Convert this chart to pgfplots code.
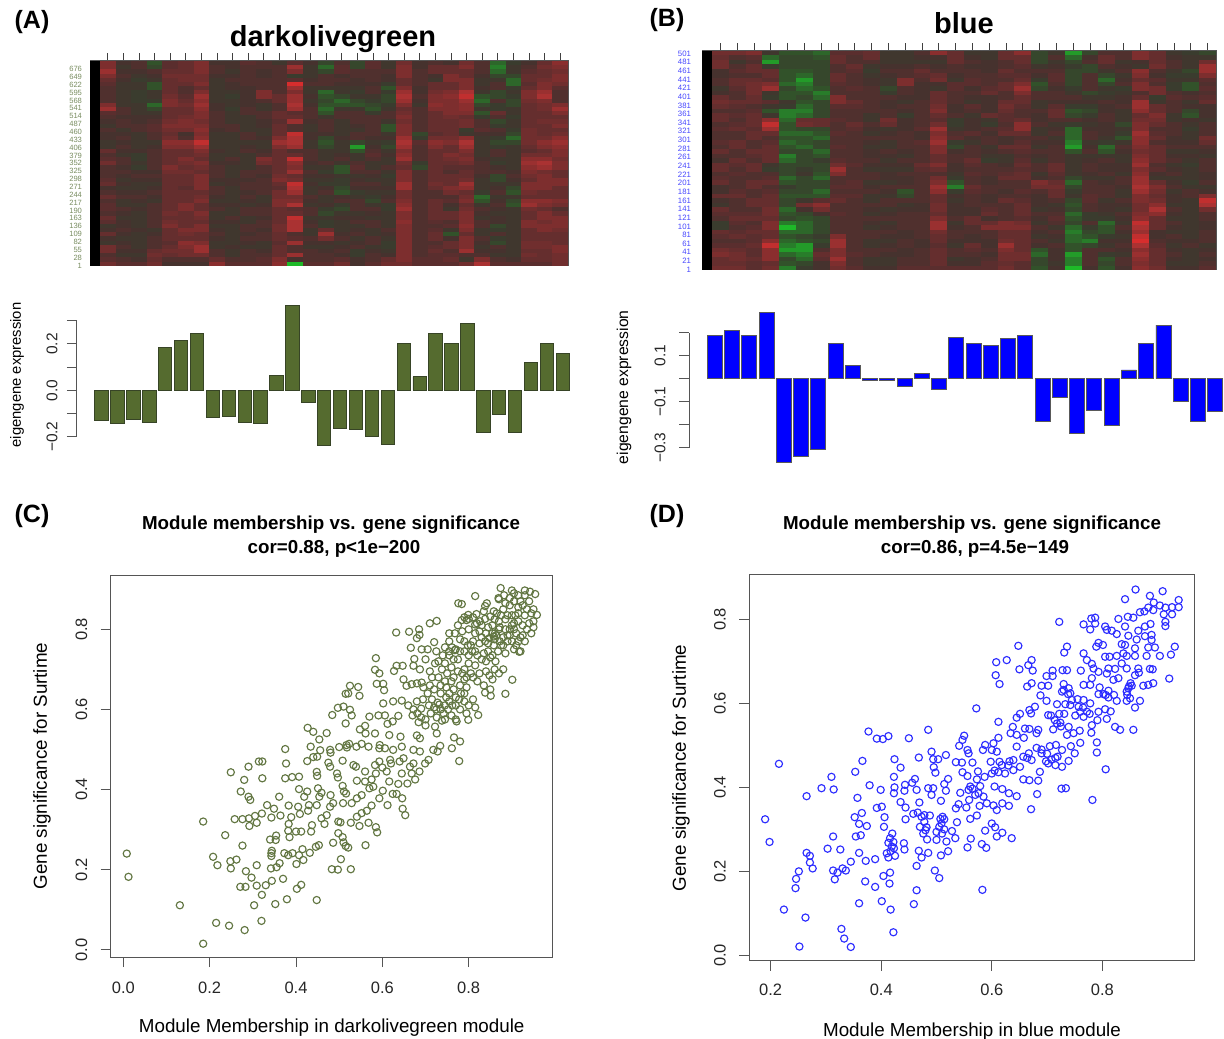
\documentclass[border=0pt]{standalone}
\usepackage{fontspec}
\setmainfont{Liberation Sans}
\usepackage{pgfplots}
\usepackage{pgfplotstable}
\pgfplotsset{compat=1.18}
\definecolor{olive}{RGB}{85,107,47}
\definecolor{olivemark}{RGB}{98,118,66}
\definecolor{oliveedge}{RGB}{55,68,38}
\definecolor{oliverow}{RGB}{120,140,95}
\definecolor{bluerow}{RGB}{70,70,255}
\definecolor{bluemark}{RGB}{45,45,255}
\definecolor{frame}{RGB}{85,85,85}
\pgfplotsset{
  colormap={rg}{rgb255(0)=(30,185,40) rgb255(1)=(40,125,42) rgb255(2)=(50,82,42) rgb255(3)=(58,60,46) rgb255(4)=(70,50,46) rgb255(5)=(90,46,46) rgb255(6)=(112,46,46) rgb255(7)=(138,46,46) rgb255(8)=(170,50,50) rgb255(9)=(215,45,45)},
  base/.style={scale only axis, axis line style={color=frame,line width=1pt}, tick style={color=frame,line width=1pt}, tick align=outside, major tick length=10pt, ticklabel style={font=\fontsize{16.5}{18}\selectfont,color=black!85}},
  heat/.style={base, clip=true, xmin=-#1, xmax=30, ymin=0, point meta min=0, point meta max=9, xtick={0.5,1.5,...,29.5}, xticklabels={}, xtick pos=upper, major tick length=7.5pt, ytick style={draw=none}, major tick style={color=black!75,line width=.9pt}, axis line style={color=frame,line width=1pt}, enlargelimits=false},
  barax/.style={base, clip=false, axis x line=none, axis y line*=left, ybar, bar shift=0pt, ticklabel style={font=\fontsize{15.5}{17}\selectfont}, y label style={anchor=center}},
  scat/.style={base, clip=true, axis x line*=bottom, axis y line*=left, extra description/.code={\draw[frame,line width=1pt] (rel axis cs:0,0) rectangle (rel axis cs:1,1);}, x label style={font=\fontsize{18.8}{20}\selectfont,anchor=center,at={(axis description cs:0.5,0)}}, y label style={font=\fontsize{18.8}{20}\selectfont,anchor=center,at={(axis description cs:0,0.5)}}},
}
\pgfplotstableread[header=false]{
7 4 4 3 5 5 6 4 4 5 4 3 3 4 3 5 4 5 4 5 4 3 2 5 4 2 3 4 5 7
6 4 5 1 5 6 7 4 4 5 5 4 7 4 2 4 1 5 3 7 4 6 6 7 5 1 3 4 6 7
7 3 4 4 5 5 6 5 4 4 4 5 8 3 1 6 4 5 4 6 4 5 5 6 4 1 4 5 6 6
8 5 4 5 6 6 7 4 3 5 4 4 5 4 4 4 5 4 5 7 5 6 6 5 5 2 3 5 5 6
5 4 3 3 6 6 5 4 5 4 4 5 1 3 5 4 4 5 3 6 4 2 7 6 3 3 2 6 6 7
6 4 3 4 5 6 7 3 4 5 5 4 9 5 4 5 4 4 5 5 5 5 6 7 4 4 1 5 6 6
4 3 4 0 6 5 6 4 4 4 4 5 9 4 5 3 4 4 1 6 4 6 5 6 3 5 2 5 7 6
5 4 3 4 5 4 5 3 4 4 5 4 6 3 2 4 3 5 3 7 4 5 6 7 5 4 4 6 6 4
4 3 3 3 6 5 8 4 3 4 8 5 7 4 1 3 3 4 3 8 4 7 7 9 2 1 3 7 9 5
5 4 3 4 6 5 7 3 3 4 5 6 8 4 3 2 4 3 2 8 5 6 7 8 2 4 3 6 7 4
4 3 3 2 7 6 7 4 4 4 4 5 7 3 2 1 1 3 3 7 3 7 6 7 1 5 2 6 6 5
9 4 4 1 6 6 8 4 3 4 3 4 9 5 2 3 3 2 3 6 4 7 7 7 4 1 3 5 6 8
6 5 3 4 5 5 6 4 3 5 4 5 6 4 1 4 4 2 4 5 5 6 6 7 3 5 4 6 6 7
4 4 4 3 6 6 7 5 4 4 5 6 4 5 3 5 5 4 5 7 4 5 7 6 1 6 3 5 5 6
5 4 4 5 5 6 6 4 3 3 4 5 7 4 4 4 4 5 4 6 5 6 5 5 5 3 3 6 6 5
3 5 4 4 7 7 6 5 4 4 4 5 8 4 5 3 5 4 3 6 4 5 6 7 4 2 4 5 6 7
4 4 5 6 6 6 7 4 5 3 4 6 1 3 4 4 3 5 1 7 5 6 5 5 5 4 3 6 5 6
5 3 4 4 6 6 7 4 4 4 3 5 8 4 5 3 4 4 3 6 4 5 6 1 5 5 3 6 6 5
3 5 3 5 5 2 6 3 3 5 4 6 9 4 3 4 5 5 4 7 1 5 5 6 3 3 2 6 5 7
5 4 4 4 7 7 8 4 4 4 4 7 7 4 2 4 4 3 4 8 5 7 7 8 4 3 1 6 7 7
2 4 3 3 7 7 9 3 3 3 3 8 9 3 2 3 1 4 2 8 5 7 6 8 3 2 4 6 7 8
5 5 4 5 6 6 6 4 4 5 4 5 6 4 3 4 0 4 3 7 4 6 5 7 4 4 3 5 6 6
6 3 4 4 5 5 7 4 3 4 4 6 3 5 4 3 4 5 4 6 5 5 6 6 3 5 4 5 5 7
3 4 2 5 6 6 5 3 4 3 5 5 8 4 3 5 3 5 4 8 4 6 7 6 4 4 3 7 7 6
7 5 4 4 5 7 6 4 5 4 8 6 9 5 4 4 4 4 3 7 5 5 5 7 4 3 4 7 7 6
5 4 3 5 6 5 7 4 3 3 4 5 5 3 5 3 5 3 4 5 1 6 6 5 5 3 3 8 9 7
4 4 3 4 7 6 5 5 4 4 5 6 8 4 2 1 5 4 5 6 4 5 4 5 4 5 4 6 6 6
5 5 5 4 5 6 6 4 3 5 4 5 7 5 4 3 4 5 2 7 5 6 5 6 5 4 4 7 6 5
4 3 4 5 6 5 7 5 4 4 4 7 4 3 4 4 3 3 4 6 4 5 6 5 3 1 5 5 7 6
6 4 4 3 5 6 6 3 4 4 5 6 8 4 3 2 5 4 3 7 5 6 5 7 4 4 3 6 6 7
5 4 3 4 6 5 7 4 4 5 4 5 9 4 3 4 4 5 4 8 4 6 6 8 3 3 4 7 7 6
3 3 4 4 5 5 6 5 3 4 5 5 7 3 5 1 4 3 4 7 5 5 7 6 4 5 1 6 6 5
6 5 4 5 6 6 5 4 4 4 4 7 8 4 4 3 2 4 3 5 4 4 5 5 2 4 3 6 5 6
5 4 5 3 5 5 7 4 3 5 3 5 4 5 3 5 5 2 5 7 5 5 4 7 1 3 4 5 6 5
4 3 3 4 6 6 6 3 4 3 4 8 9 3 4 4 4 3 4 6 4 6 6 6 3 5 1 9 8 8
6 4 4 5 5 7 5 5 4 4 4 5 7 4 4 2 5 4 2 8 5 5 2 5 4 4 3 6 5 4
4 5 4 4 6 6 6 4 3 5 5 6 3 5 2 3 4 5 4 7 4 6 5 7 5 4 4 6 6 5
5 3 3 5 6 5 7 3 4 4 4 5 8 4 3 4 3 3 3 6 5 5 6 6 3 3 3 5 7 6
6 4 4 4 5 6 5 4 5 3 4 6 9 3 4 4 5 4 4 7 4 6 5 7 4 5 4 6 6 7
4 4 3 5 7 5 6 4 3 4 5 5 7 5 2 3 4 5 3 7 5 4 4 6 5 3 3 7 6 6
3 4 4 4 6 6 7 3 4 5 4 7 9 4 4 4 3 4 4 6 4 5 6 8 4 2 4 6 7 7
5 5 4 3 5 7 6 5 3 4 4 5 7 3 7 3 5 3 5 7 5 5 1 5 3 4 3 5 6 5
6 3 3 5 6 5 5 4 4 4 5 6 2 4 8 5 4 4 3 6 4 6 3 6 4 5 4 6 5 6
2 4 4 4 5 6 6 4 3 5 4 5 8 5 4 4 3 5 4 7 5 5 5 7 5 1 3 5 6 5
5 4 3 5 5 8 7 3 4 3 3 5 7 3 4 3 5 4 2 6 4 4 6 6 3 4 4 7 6 6
7 5 4 4 6 5 8 4 4 4 4 6 2 4 3 5 4 3 4 7 5 6 5 7 4 5 3 5 6 7
5 3 4 7 6 7 7 5 3 5 4 5 7 5 5 4 2 5 3 6 4 5 4 8 4 3 4 6 5 6
4 4 3 5 5 5 5 4 4 4 5 6 8 4 4 4 4 4 5 7 5 5 6 1 5 4 3 6 6 6
6 5 5 6 4 4 4 7 5 5 5 7 0 5 5 6 4 5 6 6 5 5 5 6 8 5 5 5 5 6
6 5 5 6 4 4 4 7 5 5 5 7 0 5 5 6 4 5 6 6 5 5 5 6 8 5 5 5 5 6
}\hmA
\pgfplotstableread[header=false]{
6 7 7 4 2 1 2 5 5 5 3 4 4 8 6 5 3 5 8 2 2 0 2 4 4 7 6 3 2 3
6 5 6 3 2 3 1 5 5 6 4 3 5 6 5 2 4 6 6 3 5 1 3 5 5 6 5 4 4 2
5 4 4 0 3 2 3 6 4 5 3 4 3 2 6 6 3 5 5 2 4 2 5 6 4 7 6 4 3 5
7 3 5 1 2 3 2 5 5 4 4 3 4 5 5 3 5 4 6 3 3 3 4 5 3 1 5 5 4 7
5 6 6 5 3 2 3 4 6 3 4 5 5 3 4 5 3 5 4 4 5 3 1 4 5 6 7 4 3 8
3 4 5 6 1 2 2 5 4 3 5 4 6 6 5 4 5 6 5 5 4 2 4 3 4 8 2 3 2 7
5 5 4 5 3 1 3 6 5 4 3 5 4 5 3 5 4 4 5 3 6 3 5 2 3 5 6 3 4 6
4 6 7 5 1 0 2 5 4 4 4 8 5 7 4 5 5 5 6 3 4 2 4 1 5 6 4 4 3 4
5 5 5 8 2 2 3 5 5 4 3 5 3 1 6 5 4 6 7 1 5 3 5 4 4 7 5 2 1 5
2 5 7 7 3 1 1 4 5 5 2 4 5 6 4 3 6 5 8 4 3 3 4 3 2 6 7 4 3 5
6 4 5 0 1 3 1 5 4 4 4 5 3 5 5 6 5 4 5 5 6 4 1 3 5 3 5 5 5 4
5 5 6 6 3 2 2 8 5 5 5 3 5 6 4 2 3 5 6 4 3 5 6 4 3 8 1 5 4 6
7 6 5 4 4 2 3 5 6 4 3 4 4 5 5 5 5 6 5 3 5 3 2 5 5 7 6 4 3 5
4 4 4 3 2 1 2 5 4 5 5 5 5 7 3 5 3 6 5 4 5 3 4 3 4 8 5 5 5 3
5 5 6 1 0 1 3 4 5 4 4 3 4 6 5 4 5 5 4 5 6 1 1 5 3 6 6 4 0 5
6 5 5 6 2 2 2 5 4 3 5 3 5 5 4 3 6 5 5 3 5 4 5 4 4 5 7 3 4 3
5 4 6 8 1 9 9 5 5 4 7 5 4 5 2 5 1 5 6 5 4 5 3 5 3 7 5 4 4 4
4 6 5 9 3 3 2 4 6 5 4 3 5 7 4 3 5 4 8 4 3 1 4 3 2 6 6 5 3 5
6 5 5 6 1 2 3 5 4 3 3 5 5 8 3 5 4 6 6 3 5 2 4 5 5 7 3 4 3 4
3 4 6 5 2 1 1 5 5 4 5 4 3 5 6 5 4 5 5 4 4 1 5 3 1 8 7 5 4 5
6 5 5 4 2 3 2 4 4 5 4 5 5 9 4 3 5 3 4 5 3 2 4 4 3 6 4 3 3 7
4 6 4 6 1 1 3 5 5 3 3 4 5 6 2 4 4 5 6 3 5 0 3 2 4 8 5 5 5 4
5 5 5 5 3 2 2 5 4 4 4 5 4 7 3 5 3 6 5 4 4 1 5 1 5 5 6 4 4 5
6 4 6 6 2 3 1 4 5 4 5 3 5 6 5 4 5 3 5 5 5 3 4 3 3 7 5 3 3 3
3 5 4 5 0 2 3 5 4 4 3 4 4 5 4 5 2 4 4 3 4 4 3 4 4 6 6 5 5 4
5 6 5 6 3 3 3 5 5 5 4 5 5 6 5 6 4 3 6 4 5 3 5 5 3 8 5 4 2 5
6 4 6 1 2 2 2 7 5 3 4 3 6 7 3 4 5 5 5 5 6 4 4 3 5 7 4 3 4 4
5 5 5 5 3 4 3 8 4 4 3 4 4 4 5 5 4 4 5 4 5 3 5 5 3 6 6 5 3 5
4 5 4 4 2 3 1 5 5 5 5 5 5 5 2 5 5 6 6 3 5 4 3 4 4 8 2 4 4 3
6 4 5 6 1 2 2 4 4 4 3 3 4 7 4 4 3 5 5 5 4 1 4 3 5 7 5 3 3 5
5 5 6 5 3 3 3 5 6 3 4 5 5 6 0 5 5 4 4 8 7 2 5 5 4 8 6 5 3 4
3 4 5 4 3 2 2 5 4 5 5 4 4 9 2 6 4 5 5 4 5 3 4 4 4 8 7 4 4 3
5 6 4 6 2 3 1 4 5 4 3 0 5 5 4 4 5 3 5 5 6 3 5 5 3 7 5 3 5 5
6 5 5 5 2 1 3 6 5 3 4 5 4 6 4 5 3 6 4 3 5 4 5 4 4 6 6 5 4 8
2 4 6 6 3 6 7 5 4 4 5 4 5 5 3 4 5 5 6 5 4 1 5 3 5 7 6 3 3 9
5 5 5 5 2 6 7 4 5 5 4 3 3 7 5 5 4 4 5 3 3 3 4 5 3 5 8 4 4 7
6 4 4 7 1 2 5 5 4 3 3 5 5 5 3 3 6 5 6 4 5 2 5 3 4 7 8 5 3 5
4 6 6 5 3 3 3 5 5 4 5 4 4 6 5 5 5 4 5 5 4 1 1 4 5 6 6 3 4 4
5 5 5 6 2 1 2 4 4 5 4 5 5 7 4 6 3 5 5 3 6 3 5 2 3 8 5 4 3 5
1 5 4 7 0 2 3 5 5 3 3 4 4 8 3 5 8 8 7 4 3 2 4 1 4 9 6 5 4 3
5 4 6 6 0 1 2 4 4 4 5 5 5 7 5 4 5 5 6 5 4 1 2 3 5 7 5 3 3 5
6 6 5 5 3 2 3 5 5 5 4 3 4 5 4 5 4 6 5 3 5 1 3 1 3 8 3 4 4 4
4 5 5 6 1 3 3 8 4 4 4 5 5 6 5 3 5 5 6 4 3 2 1 5 4 9 5 5 3 5
5 4 5 8 2 1 2 7 5 3 3 4 3 5 3 5 3 7 5 5 4 1 1 3 4 9 4 3 5 4
5 6 6 9 0 0 4 8 4 4 5 5 5 5 4 6 5 8 6 3 5 3 4 4 5 7 6 4 4 3
7 5 4 5 1 1 5 5 5 5 4 3 4 6 5 4 4 5 5 1 3 1 5 5 3 7 5 4 3 5
6 7 6 9 2 1 6 8 5 4 4 5 5 5 4 5 4 7 7 2 5 0 4 1 4 8 6 5 4 4
5 5 5 5 3 2 4 7 4 3 3 4 4 6 3 3 5 5 5 3 3 2 5 3 5 6 5 3 3 4
6 6 5 6 1 3 4 6 5 4 4 5 5 5 5 5 5 6 5 2 4 0 4 2 4 7 6 4 4 5
6 6 5 6 1 3 4 6 5 4 4 5 5 5 5 5 5 6 5 2 4 0 4 2 4 7 6 4 4 5
}\hmB
\begin{document}
\begin{tikzpicture}[x=1pt,y=1pt]
\path[use as bounding box] (0,0) rectangle (1224,1039);
% ---------- heatmap A
\begin{axis}[heat=0.64, at={(90pt,773.3pt)}, anchor=south west, width=478pt, height=204.7pt, ymax=703.4,
  ytick={1,28,55,82,109,136,163,190,217,244,271,298,325,352,379,406,433,460,487,514,541,568,595,622,649,676},
  yticklabels={1,28,55,82,109,136,163,190,217,244,271,298,325,352,379,406,433,460,487,514,541,568,595,622,649,676},
  yticklabel style={font=\fontsize{7.6}{8}\selectfont,color=oliverow,xshift=3pt}]
\addplot[fill=black,draw=none,forget plot] coordinates {(-0.64,0) (0,0) (0,703.4) (-0.64,703.4)} --cycle;
\pgfplotsinvokeforeach{0,...,29}{
  \addplot[mesh,shader=flat mean,line width=15.7pt,line cap=butt,point meta=explicit,forget plot]
   table[x expr=#1+0.5,y expr=703.4*(1-\coordindex/49),meta index=#1]{\hmA};
}
\end{axis}
% ---------- heatmap B
\begin{axis}[heat=0.595, at={(702pt,769pt)}, anchor=south west, width=514pt, height=219.3pt, ymax=507.6,
  ytick={1,21,41,61,81,101,121,141,161,181,201,221,241,261,281,301,321,341,361,381,401,421,441,461,481,501},
  yticklabels={1,21,41,61,81,101,121,141,161,181,201,221,241,261,281,301,321,341,361,381,401,421,441,461,481,501},
  yticklabel style={font=\fontsize{7.8}{8}\selectfont,color=bluerow,xshift=0pt}]
\addplot[fill=black,draw=none,forget plot] coordinates {(-0.595,0) (0,0) (0,507.6) (-0.595,507.6)} --cycle;
\pgfplotsinvokeforeach{0,...,29}{
  \addplot[mesh,shader=flat mean,line width=16.9pt,line cap=butt,point meta=explicit,forget plot]
   table[x expr=#1+0.5,y expr=507.6*(1-\coordindex/49),meta index=#1]{\hmB};
}
\end{axis}
% ---------- bars A
\begin{axis}[barax, at={(77pt,602.3pt)}, anchor=south west, width=495pt, height=116pt, xmin=-0.547, xmax=30.58, ymin=-0.2, ymax=0.3,
  ytick={-0.2,-0.1,0,0.1,0.2,0.3}, yticklabels={−0.2,,0.0,,0.2,}, bar width=13.4pt,
  yticklabel style={rotate=90,anchor=south,yshift=6pt},
  ylabel={eigengene expression}, y label style={font=\fontsize{14.8}{16}\selectfont,at={(axis description cs:0,0.5)},yshift=60pt,xshift=3.7pt}]
\addplot[fill=olive,draw=oliveedge,line width=.9pt] coordinates {
(1,-0.128)(2,-0.142)(3,-0.124)(4,-0.137)(5,0.184)(6,0.213)(7,0.245)(8,-0.115)(9,-0.111)(10,-0.137)
(11,-0.145)(12,0.065)(13,0.367)(14,-0.053)(15,-0.236)(16,-0.164)(17,-0.170)(18,-0.197)(19,-0.233)(20,0.200)
(21,0.058)(22,0.245)(23,0.203)(24,0.289)(25,-0.183)(26,-0.106)(27,-0.183)(28,0.119)(29,0.203)(30,0.157)};
\end{axis}
% ---------- bars B
\begin{axis}[barax, at={(689pt,591.3pt)}, anchor=south west, width=535pt, height=115pt, xmin=-0.5, xmax=30.51, ymin=-0.3, ymax=0.2,
  ytick={-0.3,-0.2,-0.1,0,0.1,0.2}, yticklabels={−0.3,,−0.1,,0.1,}, bar width=15pt,
  yticklabel style={rotate=90,anchor=south,yshift=10pt},
  ylabel={eigengene expression}, y label style={font=\fontsize{15.7}{17}\selectfont,at={(axis description cs:0,0.5)},yshift=65pt,xshift=3pt}]
\addplot[fill=blue,draw=black!65,line width=.9pt] coordinates {
(1,0.187)(2,0.209)(3,0.187)(4,0.286)(5,-0.365)(6,-0.338)(7,-0.307)(8,0.154)(9,0.057)(10,-0.006)
(11,-0.007)(12,-0.032)(13,0.023)(14,-0.045)(15,0.181)(16,0.152)(17,0.143)(18,0.175)(19,0.188)(20,-0.184)
(21,-0.083)(22,-0.239)(23,-0.136)(24,-0.204)(25,0.038)(26,0.155)(27,0.233)(28,-0.099)(29,-0.184)(30,-0.142)};
\end{axis}
% ---------- scatter C
\begin{axis}[scat, at={(110.7pt,82pt)}, anchor=south west, width=442pt, height=382pt,
  xmin=-0.0292, xmax=0.9946, ymin=-0.0182, ymax=0.9356,
  xtick={0,0.2,0.4,0.6,0.8}, xticklabels={0.0,0.2,0.4,0.6,0.8}, xticklabel style={yshift=-11pt},
  ytick={0,0.2,0.4,0.6,0.8}, yticklabels={0.0,0.2,0.4,0.6,0.8}, yticklabel style={rotate=90,anchor=south,yshift=10pt},
  xlabel={Module Membership in darkolivegreen module}, ylabel={Gene significance for Surtime},
  x label style={yshift=-71pt}, y label style={yshift=68.7pt,xshift=0pt}]
\addplot[only marks,mark=o,mark size=3.6pt,mark options={draw=olivemark,line width=1.15pt}] coordinates {
(.008,.240)(.012,.182)(.131,.111)(.185,.015)(.185,.320)(.215,.067)(.245,.060)(.281,.049)(.320,.072)(.303,.111)
(.352,.114)(.379,.126)(.448,.124)(.321,.137)(.208,.232)(.218,.211)(.249,.203)(.248,.221)(.262,.225)(.236,.286)
(.276,.260)(.249,.443)(.280,.424)(.290,.457)(.272,.395)(.290,.382)(.294,.374)(.258,.326)(.276,.326)(.291,.328)
(.284,.196)(.297,.180)(.309,.211)(.271,.157)(.283,.157)(.309,.160)(.330,.161)(.344,.172)(.370,.177)(.402,.152)
(.412,.162)(.342,.203)(.355,.206)(.362,.216)(.343,.241)(.343,.234)(.344,.247)(.373,.241)(.382,.236)(.392,.241)
(.407,.236)(.417,.224)(.401,.214)(.415,.251)(.432,.242)(.446,.257)(.453,.261)(.483,.201)(.497,.200)(.527,.201)
(.504,.226)(.486,.267)(.510,.268)(.515,.259)(.521,.255)(.561,.261)(.340,.275)(.354,.285)(.353,.274)(.385,.281)
(.382,.297)(.400,.295)(.412,.295)(.435,.295)(.383,.314)(.437,.311)(.343,.330)(.364,.335)(.349,.352)(.333,.361)
(.321,.340)(.305,.334)(.309,.317)(.292,.309)(.389,.331)(.409,.339)(.428,.347)(.383,.360)(.405,.357)(.430,.361)
(.448,.361)(.361,.382)(.419,.382)(.426,.395)(.407,.401)(.451,.403)(.459,.392)(.454,.382)(.375,.428)(.391,.431)
(.407,.432)(.322,.428)(.314,.470)(.322,.470)(.377,.465)(.375,.501)(.426,.471)(.440,.481)(.449,.482)(.456,.498)
(.434,.507)(.448,.444)(.449,.434)(.427,.554)(.440,.544)(.454,.525)(.471,.541)(.479,.499)(.480,.492)(.500,.506)
(.517,.511)(.523,.514)(.518,.505)(.475,.467)(.479,.457)(.508,.472)(.495,.440)(.497,.430)(.508,.409)(.516,.390)
(.511,.395)(.480,.386)(.486,.366)(.479,.357)(.471,.336)(.459,.328)(.466,.314)(.498,.320)(.503,.318)(.498,.291)
(.508,.281)(.527,.317)(.547,.309)(.568,.317)(.585,.306)(.588,.293)(.541,.332)(.552,.341)(.564,.347)(.575,.360)
(.612,.361)(.509,.366)(.529,.366)(.541,.378)(.552,.386)(.570,.403)(.579,.407)(.601,.397)(.593,.378)(.624,.389)
(.633,.389)(.646,.378)(.647,.352)(.653,.336)(.533,.461)(.539,.457)(.541,.422)(.560,.445)(.583,.461)(.593,.470)
(.618,.474)(.610,.445)(.616,.420)(.637,.414)(.658,.415)(.645,.440)(.676,.425)(.686,.445)(.668,.440)(.664,.457)
(.649,.478)(.672,.465)(.707,.474)(.699,.465)(.718,.499)(.728,.495)(.734,.509)(.761,.503)(.780,.520)(.766,.530)
(.778,.471)(.726,.540)(.722,.557)(.687,.528)(.680,.535)(.672,.499)(.687,.495)(.645,.507)(.625,.499)(.606,.503)
(.594,.511)(.593,.503)(.568,.507)(.552,.514)(.540,.507)(.570,.582)(.591,.585)(.548,.550)(.560,.559)(.561,.540)
(.583,.540)(.616,.536)(.642,.532)(.612,.564)(.624,.570)(.606,.585)(.637,.584)(.602,.615)(.625,.620)(.645,.622)
(.484,.586)(.497,.604)(.510,.607)(.525,.599)(.529,.585)(.515,.565)(.515,.639)(.521,.640)(.525,.659)(.544,.656)
(.547,.634)(.587,.664)(.602,.664)(.604,.648)(.583,.699)(.593,.690)(.585,.728)(.627,.696)(.633,.709)(.647,.709)
(.632,.792)(.662,.794)(.685,.800)(.686,.786)(.680,.778)(.710,.815)(.726,.821)(.666,.754)(.691,.750)(.674,.726)
(.672,.709)(.687,.700)(.649,.675)(.656,.659)(.668,.663)(.691,.667)
(.680,.620)(.690,.602)(.672,.600)(.681,.590)(.660,.610)(.670,.585)(.690,.580)(.700,.575)(.684,.568)(.700,.560)
(.712,.590)(.726,.580)(.738,.572)(.742,.590)(.752,.600)(.760,.585)(.770,.575)(.745,.610)(.728,.617)(.715,.625)
(.705,.640)(.720,.650)(.735,.660)(.748,.655)(.710,.660)(.695,.655)(.680,.665)(.735,.640)(.755,.640)(.765,.650)
(.770,.630)(.782,.640)(.790,.620)(.800,.610)(.810,.625)(.815,.605)(.795,.655)(.780,.660)(.790,.675)(.765,.680)
(.750,.690)(.738,.700)(.722,.715)(.710,.695)(.700,.725)(.725,.745)(.745,.715)(.760,.705)(.775,.725)(.790,.700)
(.805,.690)(.820,.670)(.825,.690)(.835,.660)(.850,.650)(.855,.675)(.840,.720)(.815,.710)(.800,.735)(.790,.745)
(.770,.750)(.755,.770)(.745,.755)(.720,.768)(.705,.750)(.790,.770)(.805,.760)(.815,.745)(.835,.740)(.850,.730)
(.862,.720)(.880,.700)(.870,.690)(.885,.740)(.890,.770)(.872,.770)(.858,.760)(.845,.765)(.830,.780)(.815,.790)
(.800,.800)(.815,.812)(.800,.826)(.790,.830)(.830,.810)(.845,.805)(.855,.790)(.870,.800)(.885,.800)(.890,.785)
(.900,.810)(.910,.790)(.920,.780)(.900,.770)(.905,.750)(.920,.745)(.930,.770)(.915,.820)(.925,.810)(.935,.800)
(.945,.790)(.940,.815)(.950,.820)(.930,.835)(.915,.840)(.900,.835)(.885,.825)(.870,.820)(.865,.840)(.880,.850)
(.895,.860)(.905,.870)(.915,.855)(.925,.860)(.935,.850)(.945,.840)(.950,.850)(.940,.870)(.930,.885)(.915,.885)
(.905,.890)(.870,.875)(.874,.903)(.815,.883)(.776,.865)(.784,.863)(.842,.865)(.838,.858)(.869,.878)(.900,.897)
(.930,.897)(.954,.888)(.942,.894)(.958,.836)(.950,.805)(.917,.744)(.901,.674)(.885,.639)(.851,.634)(.838,.642)
(.822,.586)(.799,.574)(.772,.570)(.861,.790)(.864,.785)(.858,.782)(.761,.755)(.755,.745)(.768,.748)(.799,.836)
(.795,.823)(.784,.823)(.819,.815)(.860,.775)(.875,.760)(.895,.800)(.905,.815)(.880,.780)(.890,.835)(.855,.810)
(.840,.790)(.825,.765)(.810,.770)(.800,.715)(.785,.690)(.775,.695)(.760,.670)(.745,.670)(.730,.680)(.715,.680)
(.735,.600)(.725,.600)(.745,.575)(.755,.620)(.770,.610)(.780,.600)(.795,.590)
(.826,.820)(.838,.826)(.850,.832)(.858,.845)(.875,.835)(.885,.865)(.860,.825)(.848,.778)(.838,.770)(.872,.805)
(.880,.760)(.895,.785)(.905,.800)(.915,.770)(.925,.785)(.908,.835)(.920,.870)(.895,.878)(.882,.885)(.910,.760)
(.868,.745)(.855,.735)(.845,.745)(.830,.725)(.820,.735)(.808,.745)(.798,.760)(.780,.775)(.768,.790)(.755,.790)
(.775,.810)(.785,.795)(.825,.795)(.810,.830)(.835,.845)(.818,.838)(.790,.640)(.778,.625)(.762,.610)(.748,.630)
(.732,.612)(.720,.605)(.708,.610)(.694,.625)(.765,.725)(.755,.735)(.740,.735)(.730,.720)(.780,.745)(.810,.680)
(.795,.680)(.840,.695)(.860,.700)(.848,.685)(.640,.470)(.620,.465)(.600,.455)(.585,.440)(.575,.425)(.560,.420)
};
\end{axis}
% ---------- scatter D
\begin{axis}[scat, at={(749.3pt,78.3pt)}, anchor=south west, width=445.4pt, height=385.7pt,
  xmin=0.1614, xmax=0.967, ymin=-0.0127, ymax=0.9056,
  xtick={0.2,0.4,0.6,0.8}, xticklabels={0.2,0.4,0.6,0.8}, xticklabel style={yshift=-10pt},
  ytick={0,0.2,0.4,0.6,0.8}, yticklabels={0.0,0.2,0.4,0.6,0.8}, yticklabel style={rotate=90,anchor=south,yshift=10pt},
  xlabel={Module Membership in blue module}, ylabel={Gene significance for Surtime},
  x label style={yshift=-71pt}, y label style={yshift=68.3pt,xshift=0pt}]
\addplot[only marks,mark=o,mark size=3.6pt,mark options={draw=bluemark,line width=1.15pt}] coordinates {
(.190,.324)(.198,.270)(.215,.456)(.224,.109)(.263,.090)(.252,.021)(.328,.063)(.333,.040)(.345,.020)(.422,.055)
(.360,.124)(.401,.129)(.417,.109)(.459,.122)(.464,.155)(.583,.156)(.245,.160)(.246,.182)(.251,.200)(.265,.244)
(.271,.237)(.271,.221)(.276,.207)(.303,.254)(.326,.252)(.313,.202)(.321,.197)(.316,.181)(.330,.207)(.336,.202)
(.345,.223)(.371,.176)(.389,.163)(.404,.189)(.416,.197)(.415,.171)(.372,.225)(.389,.229)(.360,.244)(.354,.283)
(.363,.286)(.313,.283)(.352,.329)(.365,.339)(.360,.313)(.374,.308)(.265,.379)(.292,.398)(.314,.395)(.310,.425)
(.353,.437)(.366,.463)(.357,.375)(.379,.405)(.399,.394)(.392,.351)(.401,.354)(.406,.329)(.405,.306)(.377,.533)
(.392,.516)(.403,.515)(.413,.522)(.450,.517)(.485,.537)(.424,.467)(.435,.447)(.423,.425)(.424,.400)(.423,.386)
(.443,.406)(.442,.392)(.461,.420)(.456,.411)(.464,.394)(.435,.365)(.444,.352)(.469,.364)(.444,.324)(.458,.337)
(.466,.340)(.473,.330)(.478,.334)(.488,.333)(.420,.290)(.416,.279)(.413,.268)(.419,.259)(.423,.255)(.410,.243)
(.413,.233)(.425,.237)(.441,.267)(.442,.252)(.468,.249)(.473,.233)(.485,.244)(.464,.213)(.497,.202)(.505,.184)
(.508,.238)(.521,.248)(.518,.271)(.534,.279)(.500,.275)(.483,.276)(.476,.290)(.480,.298)(.470,.306)(.500,.294)
(.505,.306)(.509,.314)(.514,.324)(.537,.317)(.528,.296)(.556,.257)(.562,.278)(.582,.265)(.590,.256)(.588,.297)
(.600,.314)(.606,.305)(.609,.283)(.619,.292)(.636,.279)(.561,.325)(.573,.333)(.535,.350)(.540,.360)(.554,.352)
(.578,.356)(.591,.362)(.603,.357)(.609,.346)(.619,.362)(.631,.356)(.508,.368)(.491,.382)(.485,.398)(.494,.398)
(.517,.392)(.514,.408)(.521,.420)(.543,.387)(.558,.394)(.561,.402)(.559,.370)(.576,.386)(.585,.378)(.579,.403)
(.605,.402)(.619,.396)(.631,.386)(.645,.379)(.657,.419)(.668,.417)(.684,.416)(.682,.384)(.671,.348)(.726,.397)
(.734,.398)(.782,.370)(.806,.443)(.790,.483)(.790,.507)(.494,.467)(.503,.467)(.491,.485)(.517,.477)(.468,.471)
(.495,.448)(.498,.435)(.535,.460)(.546,.459)(.565,.459)(.547,.436)(.556,.427)(.575,.438)(.573,.419)(.587,.425)
(.541,.499)(.547,.513)(.550,.523)(.556,.489)(.558,.481)(.588,.501)(.584,.489)(.603,.505)(.600,.489)(.609,.485)
(.612,.518)(.598,.461)(.600,.433)(.614,.461)(.618,.453)(.624,.433)(.639,.441)(.639,.465)(.651,.449)(.657,.473)
(.672,.465)(.667,.481)(.690,.481)(.687,.437)(.702,.457)(.715,.453)(.727,.449)(.739,.463)(.719,.473)(.727,.489)
(.750,.481)(.760,.506)(.705,.498)(.716,.501)(.743,.498)(.681,.494)(.645,.497)(.634,.529)(.638,.544)(.645,.525)
(.658,.518)(.660,.540)(.668,.539)(.684,.537)(.681,.529)(.612,.556)(.572,.588)(.645,.566)(.651,.575)(.668,.584)
(.678,.592)(.671,.576)(.648,.737)(.608,.698)(.627,.703)(.672,.703)(.666,.691)(.650,.681)(.674,.678)(.607,.667)
(.614,.646)(.664,.640)(.672,.648)(.690,.642)(.702,.642)(.699,.665)(.710,.665)(.710,.678)(.688,.619)(.699,.606)
(.722,.794)(.731,.721)(.736,.735)(.728,.679)(.736,.679)(.761,.678)(.730,.646)(.739,.636)(.727,.628)(.742,.624)
(.718,.598)(.733,.598)(.742,.596)(.702,.572)(.707,.571)(.731,.575)(.714,.560)(.724,.554)(.711,.538)(.739,.544)
(.736,.525)(.748,.529)(.759,.535)(.751,.571)(.766,.568)(.777,.575)(.757,.592)(.766,.608)(.778,.600)(.766,.644)
(.778,.644)(.781,.660)(.795,.638)(.793,.622)(.802,.622)(.811,.630)(.811,.614)(.821,.620)(.826,.606)(.844,.606)
(.868,.606)(.859,.590)(.805,.586)(.815,.581)(.793,.580)(.791,.560)(.808,.563)(.781,.548)(.780,.530)(.823,.544)
(.832,.537)(.856,.537)(.766,.719)(.772,.703)(.781,.694)(.784,.683)(.793,.675)(.808,.671)(.811,.683)(.823,.682)
(.844,.683)(.865,.683)(.886,.682)(.891,.681)(.921,.659)(.892,.648)(.883,.644)(.874,.642)(.851,.648)(.847,.636)
(.844,.628)(.829,.660)(.820,.656)(.866,.673)(.859,.667)(.805,.711)(.813,.711)(.826,.713)(.835,.695)(.844,.713)
(.859,.713)(.859,.731)(.838,.719)(.835,.741)(.841,.739)(.789,.735)(.793,.744)(.801,.739)(.883,.733)(.895,.733)
(.880,.713)(.904,.713)(.924,.716)(.931,.735)(.889,.751)(.877,.760)(.862,.752)(.865,.773)(.889,.763)(.808,.775)
(.817,.773)(.826,.765)(.847,.761)(.841,.783)(.805,.783)(.829,.801)(.846,.806)(.856,.804)(.877,.783)(.887,.789)
(.914,.794)(.914,.784)(.766,.788)(.778,.776)(.780,.802)(.787,.804)(.787,.790)(.841,.848)(.860,.871)(.909,.867)
(.886,.856)(.938,.846)(.893,.840)(.904,.833)(.914,.828)(.926,.829)(.938,.829)(.892,.822)(.883,.828)(.868,.817)
(.876,.819)(.911,.812)(.926,.812)(.848,.640)(.853,.642)(.845,.620)(.850,.612)(.806,.620)(.760,.580)(.765,.590)
(.772,.580)(.755,.610)(.745,.608)(.730,.632)(.738,.622)(.722,.575)(.718,.552)(.725,.545)(.700,.480)(.708,.466)
(.715,.470)(.698,.462)(.690,.490)(.664,.470)(.630,.452)(.632,.462)(.612,.436)(.605,.440)(.565,.397)(.570,.382)
(.510,.290)(.514,.300)(.507,.325)(.511,.330)(.478,.318)(.482,.305)(.422,.270)(.417,.248)
};
\end{axis}
% ---------- texts
\node[font=\bfseries\fontsize{25}{27}\selectfont] at (32,1017) {(A)};
\node[font=\bfseries\fontsize{25}{27}\selectfont] at (667,1019) {(B)};
\node[font=\bfseries\fontsize{25}{27}\selectfont] at (32,523) {(C)};
\node[font=\bfseries\fontsize{25}{27}\selectfont] at (667,523) {(D)};
\node[font=\bfseries\fontsize{29}{31}\selectfont] at (333,1000) {darkolivegreen};
\node[font=\bfseries\fontsize{29}{31}\selectfont] at (964,1016) {blue};
\node[font=\bfseries\fontsize{18.75}{20}\selectfont] at (331,514) {Module membership vs. gene significance};
\node[font=\bfseries\fontsize{18.75}{20}\selectfont] at (334,490) {cor=0.88, p<1e−200};
\node[font=\bfseries\fontsize{18.75}{20}\selectfont] at (972,514) {Module membership vs. gene significance};
\node[font=\bfseries\fontsize{18.75}{20}\selectfont] at (975,490) {cor=0.86, p=4.5e−149};
\end{tikzpicture}
\end{document}
